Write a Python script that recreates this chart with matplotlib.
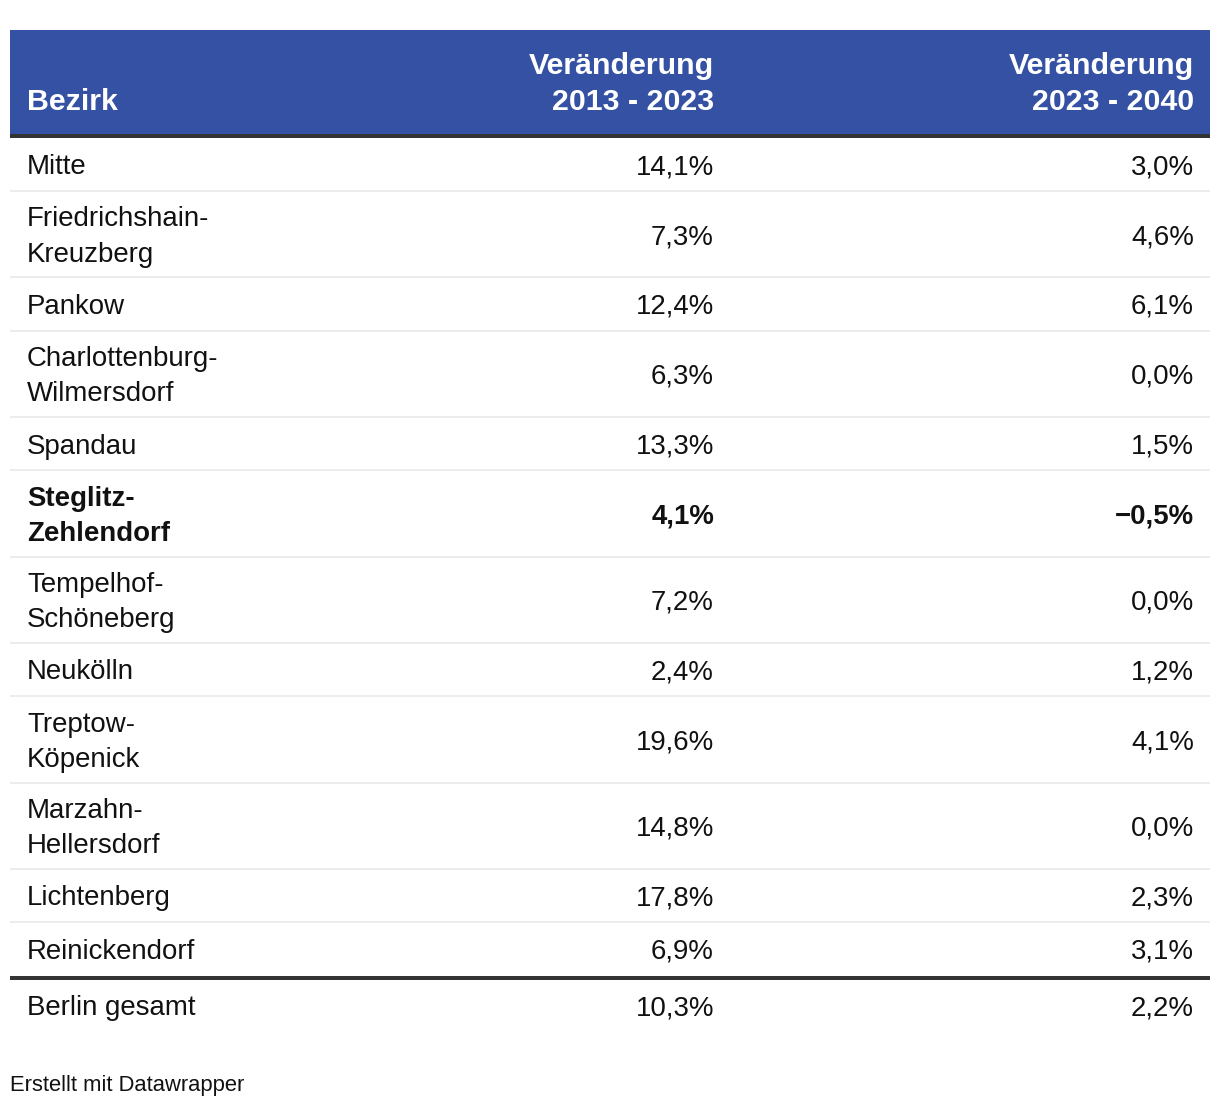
import matplotlib
matplotlib.use("Agg")
import matplotlib.pyplot as plt
from matplotlib.patches import Rectangle

plt.rcParams['font.family'] = ['Liberation Sans', 'DejaVu Sans']

# ---------------- data ----------------
header_bezirk = "Bezirk"
header_col1 = "Veränderung\n2013 - 2023"
header_col2 = "Veränderung\n2023 - 2040"

bezirke = [
    "Mitte",
    "Friedrichshain-\nKreuzberg",
    "Pankow",
    "Charlottenburg-\nWilmersdorf",
    "Spandau",
    "Steglitz-\nZehlendorf",
    "Tempelhof-\nSchöneberg",
    "Neukölln",
    "Treptow-\nKöpenick",
    "Marzahn-\nHellersdorf",
    "Lichtenberg",
    "Reinickendorf",
]
change_2013_2023 = [14.1, 7.3, 12.4, 6.3, 13.3, 4.1, 7.2, 2.4, 19.6, 14.8, 17.8, 6.9]
change_2023_2040 = [3.0, 4.6, 6.1, 0.0, 1.5, -0.5, 0.0, 1.2, 4.1, 0.0, 2.3, 3.1]
highlight = "Steglitz-\nZehlendorf"

total_label = "Berlin gesamt"
total_2013_2023 = 10.3
total_2023_2040 = 2.2

footer = "Erstellt mit Datawrapper"


def fmt(v):
    s = f"{v:.1f}".replace(".", ",").replace("-", "\u2212")
    return s + "%"


# ---------------- layout ----------------
W, H = 1220, 1106
fig = plt.figure(figsize=(W / 100, H / 100), dpi=100)
ax = fig.add_axes([0, 0, 1, 1])
ax.set_xlim(0, W)
ax.set_ylim(H, 0)
ax.axis("off")

FS = 19.9          # pt, ~27.6 px
HFS = 21.9         # header pt, ~30.4 px
CAP = 19.8         # cap height px
LINE = 35          # line spacing px
LEFT, RIGHT = 10, 1210
X_NAME = 27
X_C1 = 714
X_C2 = 1194
TXT = "#111111"
BLUE = "#3451a3"
DARK = "#333333"
GRID = "#ececec"

# header
ax.add_patch(Rectangle((LEFT, 30), RIGHT - LEFT, 104, facecolor=BLUE, edgecolor="none"))
ax.add_patch(Rectangle((LEFT, 134), RIGHT - LEFT, 4, facecolor=DARK, edgecolor="none"))
ax.text(X_NAME, 110, header_bezirk, ha="left", va="baseline", fontsize=HFS,
        fontweight="bold", color="white")
for x, lab in [(X_C1, header_col1), (X_C2, header_col2)]:
    l1, l2 = lab.split("\n")
    ax.text(x, 74, l1, ha="right", va="baseline", fontsize=HFS, fontweight="bold", color="white")
    ax.text(x, 110, l2, ha="right", va="baseline", fontsize=HFS, fontweight="bold", color="white")

# body rows
y = 137.5
SINGLE, DOUBLE = 53.5, 86.2
for i, (name, a, b) in enumerate(zip(bezirke, change_2013_2023, change_2023_2040)):
    lines = name.split("\n")
    h = SINGLE if len(lines) == 1 else DOUBLE
    cy = y + h / 2
    w = "bold" if name == highlight else "normal"
    n = len(lines)
    for k, ln in enumerate(lines):
        base = cy + (k - (n - 1) / 2) * LINE + CAP / 2
        ax.text(X_NAME, base, ln, ha="left", va="baseline", fontsize=FS, fontweight=w, color=TXT)
    ax.text(X_C1, cy + CAP / 2, fmt(a), ha="right", va="baseline", fontsize=FS, fontweight=w, color=TXT)
    ax.text(X_C2, cy + CAP / 2, fmt(b), ha="right", va="baseline", fontsize=FS, fontweight=w, color=TXT)
    y += h
    if i < len(bezirke) - 1:
        ax.add_patch(Rectangle((LEFT, y - 1), RIGHT - LEFT, 2, facecolor=GRID, edgecolor="none"))

# separator before total
ax.add_patch(Rectangle((LEFT, 975.5), RIGHT - LEFT, 4, facecolor=DARK, edgecolor="none"))
cy = 1005.5
ax.text(X_NAME, cy + CAP / 2, total_label, ha="left", va="baseline", fontsize=FS, color=TXT)
ax.text(X_C1, cy + CAP / 2, fmt(total_2013_2023), ha="right", va="baseline", fontsize=FS, color=TXT)
ax.text(X_C2, cy + CAP / 2, fmt(total_2023_2040), ha="right", va="baseline", fontsize=FS, color=TXT)

# footer
ax.text(10, 1091.5, footer, ha="left", va="baseline", fontsize=15.8, color=TXT)

fig.savefig("out.png", dpi=100, facecolor="white")
